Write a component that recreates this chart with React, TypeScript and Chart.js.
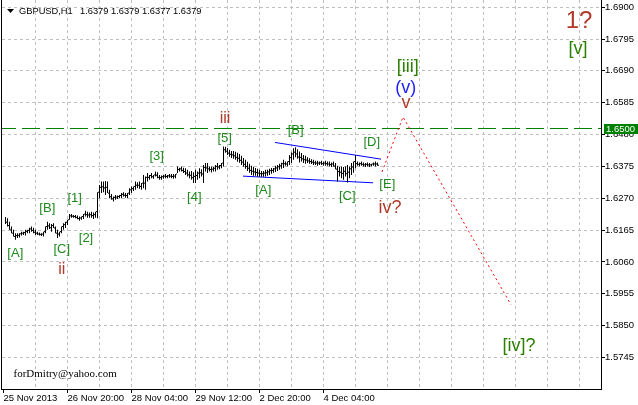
import React, { useEffect, useRef } from "react";
import { Chart, registerables } from "chart.js";

Chart.register(...registerables);

const SANS = '"Liberation Sans", Arial, sans-serif';
const SERIF = '"Liberation Serif", "Times New Roman", serif';

// ---- header / captions ----
const headerSymbol = "GBPUSD,H1";
const headerQuotes = ["1.6379", "1.6379", "1.6377", "1.6379"];
const signature = "forDmitry@yahoo.com";

// ---- H1 bars (index 1..187): high, low, close ----
const firstBar = 1;
const barHigh = [
  1.6208, 1.6204, 1.6193, 1.6177, 1.6166, 1.6155, 1.6155, 1.6155, 1.6160, 1.6160,
  1.6166, 1.6166, 1.6173, 1.6177, 1.6173, 1.6166, 1.6160, 1.6157, 1.6155, 1.6160,
  1.6177, 1.6193, 1.6188, 1.6185, 1.6188, 1.6177, 1.6166, 1.6160, 1.6177, 1.6188,
  1.6193, 1.6199, 1.6218, 1.6218, 1.6215, 1.6215, 1.6213, 1.6210, 1.6210, 1.6218,
  1.6229, 1.6226, 1.6223, 1.6226, 1.6223, 1.6226, 1.6290, 1.6314, 1.6325, 1.6325,
  1.6327, 1.6325, 1.6298, 1.6284, 1.6276, 1.6281, 1.6279, 1.6281, 1.6287, 1.6290,
  1.6287, 1.6287, 1.6303, 1.6309, 1.6309, 1.6325, 1.6323, 1.6325, 1.6320, 1.6347,
  1.6342, 1.6353, 1.6347, 1.6353, 1.6347, 1.6358, 1.6356, 1.6347, 1.6345, 1.6347,
  1.6350, 1.6347, 1.6350, 1.6350, 1.6350, 1.6350, 1.6375, 1.6371, 1.6375, 1.6371,
  1.6369, 1.6364, 1.6358, 1.6360, 1.6356, 1.6364, 1.6358, 1.6369, 1.6366, 1.6380,
  1.6386, 1.6386, 1.6375, 1.6375, 1.6373, 1.6380, 1.6386, 1.6380, 1.6386, 1.6441,
  1.6440, 1.6436, 1.6430, 1.6426, 1.6426, 1.6423, 1.6420, 1.6416, 1.6410, 1.6403,
  1.6397, 1.6390, 1.6384, 1.6377, 1.6374, 1.6370, 1.6367, 1.6364, 1.6360, 1.6360,
  1.6364, 1.6364, 1.6367, 1.6370, 1.6370, 1.6377, 1.6380, 1.6384, 1.6387, 1.6397,
  1.6391, 1.6391, 1.6413, 1.6421, 1.6435, 1.6438, 1.6432, 1.6424, 1.6419, 1.6413,
  1.6410, 1.6405, 1.6402, 1.6399, 1.6397, 1.6394, 1.6394, 1.6391, 1.6394, 1.6391,
  1.6394, 1.6391, 1.6391, 1.6388, 1.6391, 1.6386, 1.6377, 1.6373, 1.6375, 1.6373,
  1.6375, 1.6380, 1.6375, 1.6386, 1.6391, 1.6413, 1.6391, 1.6388, 1.6391, 1.6388,
  1.6386, 1.6388, 1.6386, 1.6384, 1.6388, 1.6391, 1.6388,
];
const barLow = [
  1.6185, 1.6177, 1.6166, 1.6155, 1.6144, 1.6133, 1.6139, 1.6141, 1.6147, 1.6149,
  1.6147, 1.6155, 1.6155, 1.6160, 1.6155, 1.6149, 1.6149, 1.6147, 1.6146, 1.6144,
  1.6155, 1.6166, 1.6169, 1.6160, 1.6172, 1.6155, 1.6139, 1.6144, 1.6155, 1.6166,
  1.6172, 1.6182, 1.6199, 1.6206, 1.6206, 1.6204, 1.6201, 1.6196, 1.6199, 1.6202,
  1.6210, 1.6206, 1.6206, 1.6206, 1.6202, 1.6206, 1.6204, 1.6270, 1.6287, 1.6290,
  1.6281, 1.6287, 1.6270, 1.6265, 1.6259, 1.6265, 1.6268, 1.6270, 1.6270, 1.6276,
  1.6272, 1.6270, 1.6281, 1.6287, 1.6294, 1.6298, 1.6303, 1.6301, 1.6298, 1.6303,
  1.6298, 1.6325, 1.6331, 1.6336, 1.6334, 1.6342, 1.6336, 1.6331, 1.6331, 1.6334,
  1.6336, 1.6336, 1.6338, 1.6336, 1.6334, 1.6336, 1.6353, 1.6358, 1.6358, 1.6353,
  1.6347, 1.6342, 1.6336, 1.6331, 1.6320, 1.6320, 1.6331, 1.6336, 1.6342, 1.6320,
  1.6358, 1.6353, 1.6358, 1.6355, 1.6358, 1.6358, 1.6364, 1.6366, 1.6369, 1.6375,
  1.6420, 1.6413, 1.6407, 1.6403, 1.6400, 1.6397, 1.6390, 1.6387, 1.6380, 1.6374,
  1.6367, 1.6360, 1.6354, 1.6347, 1.6344, 1.6344, 1.6342, 1.6341, 1.6341, 1.6341,
  1.6342, 1.6344, 1.6347, 1.6351, 1.6354, 1.6357, 1.6360, 1.6364, 1.6367, 1.6370,
  1.6377, 1.6375, 1.6380, 1.6386, 1.6397, 1.6405, 1.6400, 1.6388, 1.6391, 1.6386,
  1.6384, 1.6386, 1.6384, 1.6383, 1.6380, 1.6380, 1.6377, 1.6380, 1.6380, 1.6377,
  1.6377, 1.6377, 1.6375, 1.6373, 1.6375, 1.6366, 1.6325, 1.6342, 1.6336, 1.6331,
  1.6342, 1.6322, 1.6336, 1.6347, 1.6354, 1.6369, 1.6377, 1.6375, 1.6377, 1.6375,
  1.6373, 1.6375, 1.6373, 1.6375, 1.6377, 1.6375, 1.6377,
];
const barClose = [
  1.6191, 1.6180, 1.6166, 1.6155, 1.6144, 1.6147, 1.6148, 1.6153, 1.6155, 1.6157,
  1.6161, 1.6164, 1.6169, 1.6164, 1.6158, 1.6155, 1.6152, 1.6151, 1.6152, 1.6160,
  1.6177, 1.6179, 1.6173, 1.6180, 1.6172, 1.6155, 1.6152, 1.6160, 1.6177, 1.6183,
  1.6191, 1.6199, 1.6212, 1.6211, 1.6210, 1.6207, 1.6203, 1.6205, 1.6210, 1.6218,
  1.6216, 1.6215, 1.6216, 1.6213, 1.6216, 1.6226, 1.6290, 1.6306, 1.6308, 1.6304,
  1.6306, 1.6287, 1.6275, 1.6268, 1.6273, 1.6274, 1.6276, 1.6279, 1.6283, 1.6280,
  1.6279, 1.6287, 1.6298, 1.6302, 1.6309, 1.6313, 1.6313, 1.6309, 1.6320, 1.6320,
  1.6339, 1.6339, 1.6345, 1.6341, 1.6347, 1.6346, 1.6339, 1.6338, 1.6341, 1.6343,
  1.6342, 1.6344, 1.6343, 1.6342, 1.6343, 1.6350, 1.6365, 1.6367, 1.6362, 1.6358,
  1.6353, 1.6347, 1.6346, 1.6338, 1.6342, 1.6345, 1.6353, 1.6354, 1.6350, 1.6372,
  1.6370, 1.6367, 1.6365, 1.6366, 1.6369, 1.6375, 1.6373, 1.6378, 1.6386, 1.6430,
  1.6425, 1.6419, 1.6415, 1.6413, 1.6410, 1.6405, 1.6402, 1.6395, 1.6389, 1.6382,
  1.6375, 1.6369, 1.6362, 1.6359, 1.6357, 1.6355, 1.6353, 1.6351, 1.6351, 1.6353,
  1.6354, 1.6357, 1.6361, 1.6362, 1.6367, 1.6370, 1.6374, 1.6377, 1.6384, 1.6384,
  1.6383, 1.6391, 1.6404, 1.6416, 1.6422, 1.6416, 1.6406, 1.6405, 1.6400, 1.6397,
  1.6396, 1.6393, 1.6391, 1.6389, 1.6387, 1.6386, 1.6386, 1.6387, 1.6384, 1.6386,
  1.6384, 1.6383, 1.6381, 1.6383, 1.6376, 1.6366, 1.6358, 1.6356, 1.6352, 1.6359,
  1.6351, 1.6356, 1.6367, 1.6373, 1.6391, 1.6384, 1.6382, 1.6384, 1.6382, 1.6380,
  1.6382, 1.6380, 1.6380, 1.6383, 1.6383, 1.6383, 1.6379,
];

// ---- axes ----
const priceMin = 1.564134;
const priceMax = 1.692356;
const barMin = -0.75;
const barMax = 298.75;
const priceTicks = [1.5745, 1.585, 1.5955, 1.606, 1.6165, 1.627, 1.6375, 1.648, 1.6585, 1.669, 1.6795, 1.69];
const timeGrid = [0, 16, 32, 48, 64, 80, 96, 112, 128, 144, 160, 176, 192, 208, 224, 240, 256, 272, 288];
const timeLabelAt = [0, 32, 64, 96, 128, 160];
const timeLabels = ["25 Nov 2013", "26 Nov 20:00", "28 Nov 04:00", "29 Nov 12:00", "2 Dec 20:00", "4 Dec 04:00"];

// ---- drawn objects ----
const levelPrice = 1.65;
const wedgeUpperX = [135.75, 188.75];
const wedgeUpperY = [1.6454, 1.6399];
const wedgeLowerX = [119.75, 184.75];
const wedgeLowerY = [1.6343, 1.6321];
const forecastX = [189.25, 199.75, 253.75];
const forecastY = [1.6357, 1.6538, 1.5919];

// ---- wave labels ----
const waveText = ["[A]", "ii", "[B]", "[C]", "[1]", "[2]", "[3]", "[4]", "iii", "[5]", "[A]", "[B]", "[C]", "[D]", "[E]", "iv?", "[iii]", "(v)", "v", "1?", "[v]", "[iv]?"];
const waveX = [5.9, 29.1, 21.9, 29.1, 35.6, 41.25, 76.6, 95.4, 110.75, 110.6, 129.9, 146.1, 171.9, 184.1, 191.9, 193.25, 202.1, 201.1, 201.25, 287.75, 287.25, 257.75];
const waveY = [1.6087, 1.6034, 1.6238, 1.61, 1.6268, 1.6139, 1.6407, 1.6274, 1.6534, 1.6466, 1.6295, 1.6493, 1.6276, 1.6454, 1.6317, 1.6237, 1.6704, 1.6633, 1.6584, 1.6852, 1.6763, 1.5784];
const waveDegree = ["sub", "minor", "sub", "sub", "sub", "sub", "sub", "sub", "minor", "sub", "sub", "sub", "sub", "sub", "sub", "minorL", "inter", "minute", "minorL", "primary", "inter", "inter"];

const degreeStyle: Record<string, { size: number; color: string }> = {
  sub: { size: 13, color: "#1e8a1e" },
  minor: { size: 16, color: "#b03a2a" },
  minorL: { size: 18, color: "#b03a2a" },
  inter: { size: 18, color: "#2a8000" },
  minute: { size: 18, color: "#2222ff" },
  primary: { size: 24, color: "#b03a2a" },
};

const pts = (xs: number[], ys: number[]) => xs.map((x, i) => ({ x, y: ys[i] }));

const overlayPlugin = {
  id: "overlay",
  afterDatasetsDraw(chart: any) {
    const { ctx, scales } = chart;
    const xs = scales.x;
    const ys = scales.y;
    ctx.save();
    ctx.textAlign = "center";
    ctx.textBaseline = "middle";
    waveText.forEach((t, i) => {
      const st = degreeStyle[waveDegree[i]];
      ctx.font = `${st.size}px ${SANS}`;
      ctx.fillStyle = st.color;
      ctx.fillText(t, xs.getPixelForValue(waveX[i]), ys.getPixelForValue(waveY[i]));
    });
    ctx.restore();
  },
  afterDraw(chart: any) {
    const { ctx, chartArea, scales } = chart;
    const ys = scales.y;
    ctx.save();
    // left frame line
    ctx.strokeStyle = "#000";
    ctx.lineWidth = 1;
    ctx.beginPath();
    ctx.moveTo(chartArea.left - 0.5, chartArea.top);
    ctx.lineTo(chartArea.left - 0.5, chartArea.bottom + 1);
    ctx.stroke();
    // header
    const hx = chartArea.left;
    ctx.fillStyle = "#000";
    ctx.beginPath();
    ctx.moveTo(hx + 5, chartArea.top + 9);
    ctx.lineTo(hx + 12, chartArea.top + 9);
    ctx.lineTo(hx + 8.5, chartArea.top + 13);
    ctx.closePath();
    ctx.fill();
    ctx.font = `9.3px ${SANS}`;
    ctx.textBaseline = "middle";
    ctx.textAlign = "left";
    ctx.fillText(headerSymbol, hx + 17, chartArea.top + 11);
    ctx.fillText(headerQuotes.join(" "), hx + 78, chartArea.top + 11);
    // signature
    ctx.font = `11px ${SERIF}`;
    ctx.fillText(signature, hx + 11.5, chartArea.bottom - 15);
    // price level box
    const py = Math.round(ys.getPixelForValue(levelPrice));
    ctx.fillStyle = "#008000";
    ctx.fillRect(chartArea.right + 3, py - 4, 34, 10);
    ctx.fillStyle = "#ffffff";
    ctx.font = `9.5px ${SANS}`;
    ctx.fillText(levelPrice.toFixed(4), chartArea.right + 5, py + 1);
    ctx.restore();
  },
};

export default function App() {
  const ref = useRef<HTMLCanvasElement>(null);
  useEffect(() => {
    document.body.style.margin = "0";
    const barData = barHigh.map((h, k) => ({ x: firstBar + k, y: [barLow[k], h] }));
    const closeData = barClose.map((c, k) => ({ x: firstBar + k + 0.5, y: c }));
    const chart = new Chart(ref.current as HTMLCanvasElement, {
      type: "bar",
      data: {
        datasets: [
          {
            type: "bar",
            data: barData as any,
            backgroundColor: "#000000",
            borderWidth: 0,
            barThickness: 1,
            inflateAmount: 0,
          } as any,
          {
            type: "line",
            data: closeData,
            showLine: false,
            pointStyle: "line",
            pointRadius: 0.5,
            pointBorderWidth: 1,
            pointBorderColor: "#000000",
            pointBackgroundColor: "#000000",
            pointHoverRadius: 0.5,
          } as any,
          {
            type: "line",
            data: pts(wedgeUpperX, wedgeUpperY),
            borderColor: "#0000ff",
            borderWidth: 1,
            pointRadius: 0,
            tension: 0,
          },
          {
            type: "line",
            data: pts(wedgeLowerX, wedgeLowerY),
            borderColor: "#0000ff",
            borderWidth: 1,
            pointRadius: 0,
            tension: 0,
          },
          {
            type: "line",
            data: pts(forecastX, forecastY),
            borderColor: "#ff0000",
            borderWidth: 1,
            borderDash: [2, 3],
            pointRadius: 0,
            tension: 0,
          },
          {
            type: "line",
            data: pts([barMin, barMax], [levelPrice, levelPrice]),
            borderColor: "#008000",
            borderWidth: 1,
            borderDash: [18, 6],
            borderDashOffset: 4,
            pointRadius: 0,
            tension: 0,
          },
        ],
      },
      options: {
        responsive: false,
        devicePixelRatio: 1,
        animation: false,
        layout: { padding: { left: 2, top: 0, right: 0, bottom: 0 }, autoPadding: false } as any,
        plugins: { legend: { display: false }, tooltip: { enabled: false } },
        scales: {
          x: {
            type: "linear",
            min: barMin,
            max: barMax,
            offset: false,
            afterBuildTicks: (s: any) => {
              s.ticks = timeGrid.map((v) => ({ value: v }));
            },
            afterFit: (s: any) => {
              s.height = 16;
              s.paddingLeft = 0;
              s.paddingRight = 0;
            },
            ticks: {
              autoSkip: false,
              maxRotation: 0,
              minRotation: 0,
              align: "start",
              padding: 0,
              color: "#000",
              font: { family: SANS, size: 9.5 },
              callback: (v: any) => {
                const k = timeLabelAt.indexOf(Number(v));
                return k >= 0 ? timeLabels[k] : "";
              },
            },
            grid: {
              offset: false,
              lineWidth: 1,
              color: (c: any) => (c.tick && c.tick.value === 0 ? "rgba(0,0,0,0)" : "#c0c0c0"),
              tickLength: 4,
              tickColor: (c: any) => (c.tick && timeLabelAt.includes(c.tick.value) ? "#000" : "rgba(0,0,0,0)"),
            },
            border: { display: true, color: "#000", width: 1, dash: [3, 3] },
          } as any,
          y: {
            type: "linear",
            position: "right",
            min: priceMin,
            max: priceMax,
            afterBuildTicks: (s: any) => {
              s.ticks = priceTicks.map((v) => ({ value: v }));
            },
            afterFit: (s: any) => {
              s.width = 37;
              s.paddingTop = 0;
              s.paddingBottom = 0;
            },
            ticks: {
              padding: 0,
              color: "#000",
              font: { family: SANS, size: 9.5 },
              callback: (v: any) => Number(v).toFixed(4),
            },
            grid: { color: "#c0c0c0", lineWidth: 1, tickLength: 4, tickColor: "#000" },
            border: { display: true, color: "#000", width: 1, dash: [3, 3] },
          } as any,
        },
      },
      plugins: [overlayPlugin],
    });
    return () => chart.destroy();
  }, []);
  return (
    <div style={{ width: 638, height: 405, position: "relative", background: "#fff" }}>
      <canvas ref={ref} width={638} height={405} style={{ display: "block", width: 638, height: 405 }} />
    </div>
  );
}
